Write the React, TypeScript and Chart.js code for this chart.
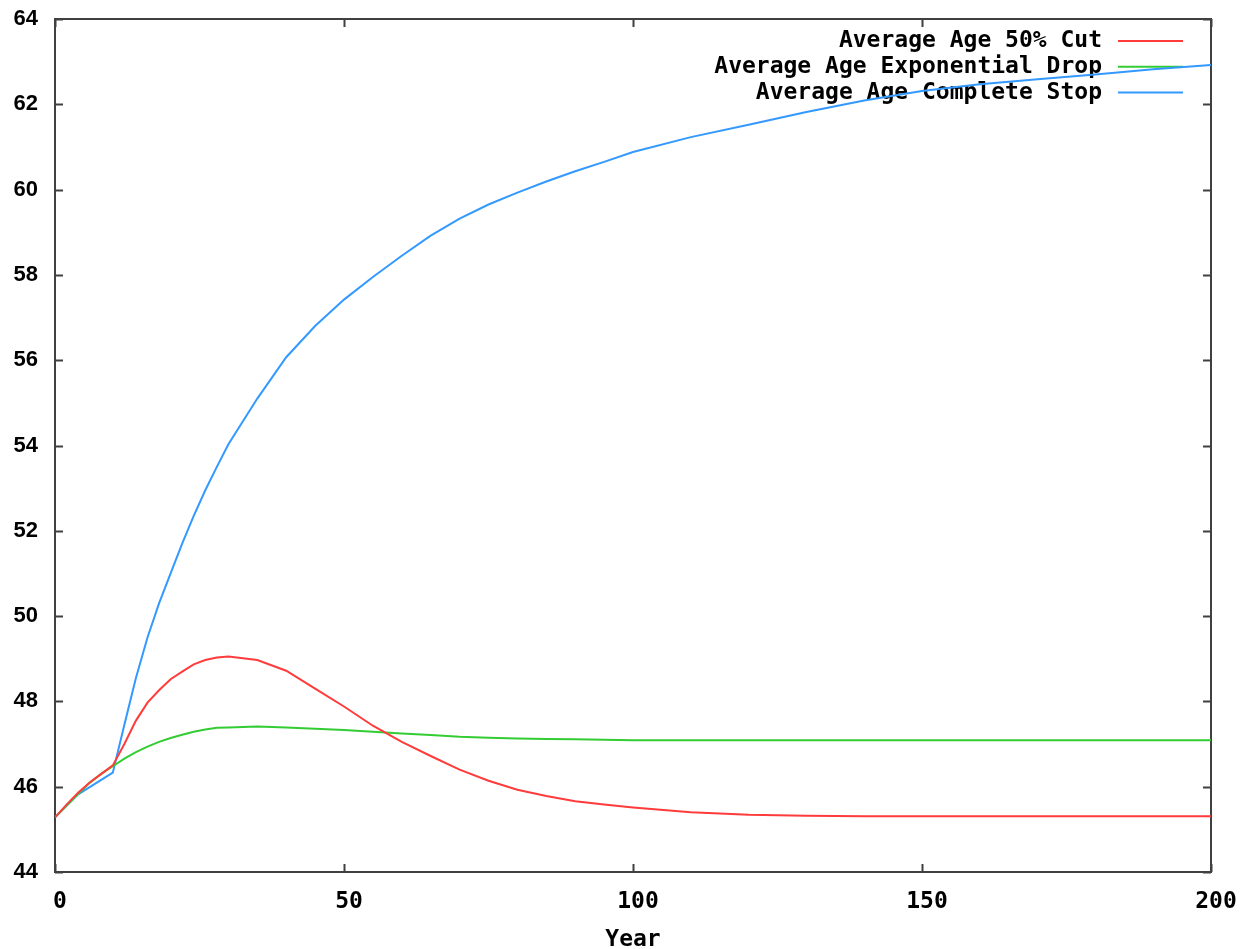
import React, { useEffect, useRef } from "react";
import { Chart, registerables } from "chart.js";

Chart.register(...registerables);

const years = [0, 2, 4, 6, 8, 10, 12, 14, 16, 18, 20, 22, 24, 26, 28, 30, 35, 40, 45, 50, 55, 60, 65, 70, 75, 80, 85, 90, 95, 100, 110, 120, 130, 140, 150, 160, 170, 180, 190, 200];

const cut50 = [45.28, 45.58, 45.86, 46.1, 46.3, 46.5, 47.0, 47.55, 47.97, 48.26, 48.52, 48.7, 48.87, 48.97, 49.03, 49.05, 48.97, 48.72, 48.3, 47.88, 47.43, 47.05, 46.72, 46.4, 46.14, 45.93, 45.78, 45.66, 45.58, 45.51, 45.4, 45.34, 45.32, 45.31, 45.31, 45.31, 45.31, 45.31, 45.31, 45.31];

const expDrop = [45.28, 45.56, 45.83, 46.09, 46.3, 46.48, 46.66, 46.81, 46.94, 47.05, 47.14, 47.22, 47.29, 47.34, 47.38, 47.39, 47.41, 47.39, 47.36, 47.33, 47.29, 47.25, 47.21, 47.17, 47.15, 47.13, 47.12, 47.11, 47.1, 47.09, 47.09, 47.09, 47.09, 47.09, 47.09, 47.09, 47.09, 47.09, 47.09, 47.09];

const completeStop = [45.28, 45.55, 45.82, 45.99, 46.16, 46.33, 47.45, 48.55, 49.5, 50.3, 51.0, 51.7, 52.35, 52.95, 53.5, 54.03, 55.1, 56.07, 56.8, 57.42, 57.95, 58.45, 58.92, 59.32, 59.65, 59.93, 60.19, 60.43, 60.65, 60.88, 61.23, 61.52, 61.82, 62.09, 62.31, 62.47, 62.59, 62.7, 62.82, 62.92];

const seriesLabels = ["Average Age 50% Cut", "Average Age Exponential Drop", "Average Age Complete Stop"];
const seriesColors = ["#ff3b3b", "#33cc33", "#3399ff"];
const xTitle = "Year";

const MONO = "'DejaVu Sans Mono', monospace";
const SANS = "'Liberation Sans', Arial, sans-serif";

const framePlugin = {
  id: "gnuFrame",
  beforeDatasetsDraw(chart: any) {
    const { ctx, chartArea: a, scales } = chart;
    ctx.save();
    ctx.strokeStyle = "#404040";
    ctx.lineWidth = 2;
    ctx.strokeRect(a.left, a.top, a.right - a.left, a.bottom - a.top);
    const tl = 8;
    ctx.beginPath();
    scales.y.ticks.forEach((t: any) => {
      const py = Math.round(scales.y.getPixelForValue(t.value)) + 0.5;
      ctx.moveTo(a.left, py);
      ctx.lineTo(a.left + tl, py);
      ctx.moveTo(a.right, py);
      ctx.lineTo(a.right - tl, py);
    });
    scales.x.ticks.forEach((t: any) => {
      const px = Math.round(scales.x.getPixelForValue(t.value)) + 0.5;
      ctx.moveTo(px, a.bottom);
      ctx.lineTo(px, a.bottom - tl);
      ctx.moveTo(px, a.top);
      ctx.lineTo(px, a.top + tl);
    });
    ctx.stroke();

    // key
    ctx.font = `bold 23px ${MONO}`;
    ctx.fillStyle = "#000";
    ctx.textAlign = "right";
    ctx.textBaseline = "middle";
    const textRight = a.right - 109;
    const lineStart = a.right - 93;
    const lineEnd = a.right - 28;
    chart.data.datasets.forEach((ds: any, i: number) => {
      const y = a.top + 22 + i * 25.8;
      ctx.fillText(ds.label, textRight, y);
      ctx.strokeStyle = ds.borderColor;
      ctx.lineWidth = 2;
      ctx.beginPath();
      ctx.moveTo(lineStart, y);
      ctx.lineTo(lineEnd, y);
      ctx.stroke();
    });
    ctx.restore();
  },
};

export default function App() {
  const ref = useRef<HTMLCanvasElement>(null);
  useEffect(() => {
    document.body.style.margin = "0";
    const series = [cut50, expDrop, completeStop];
    const chart = new Chart(ref.current!, {
      type: "line",
      data: {
        datasets: series.map((vals, i) => ({
          label: seriesLabels[i],
          data: years.map((yr, j) => ({ x: yr, y: vals[j] })),
          borderColor: seriesColors[i],
          backgroundColor: seriesColors[i],
          borderWidth: 2,
          pointRadius: 0,
          tension: 0,
          fill: false,
        })),
      },
      options: {
        animation: false,
        responsive: false,
        maintainAspectRatio: false,
        layout: { padding: { left: 0, top: 19, right: 36, bottom: 0 } },
        plugins: { legend: { display: false }, tooltip: { enabled: false }, title: { display: false } },
        scales: {
          x: {
            type: "linear",
            min: 0,
            max: 200,
            grid: { display: false, drawTicks: false },
            border: { display: false },
            ticks: { stepSize: 50, color: "#000", font: { family: MONO, size: 23, weight: "bold" }, padding: 16, labelOffset: 5, maxRotation: 0 },
            title: { display: true, text: xTitle, color: "#000", font: { family: MONO, size: 23, weight: "bold" }, padding: { top: 0, bottom: -5 } },
            afterFit: (s: any) => { s.height = 77; s.paddingLeft = 0; s.paddingRight = 0; },
          },
          y: {
            type: "linear",
            min: 44,
            max: 64,
            grid: { display: false, drawTicks: false },
            border: { display: false },
            ticks: { stepSize: 2, color: "#000", font: { family: SANS, size: 22, weight: "bold" }, padding: 17 },
            afterFit: (s: any) => { s.width = 55; s.paddingTop = 0; s.paddingBottom = 0; },
          },
        },
      },
      plugins: [framePlugin],
    });
    return () => chart.destroy();
  }, []);
  return <canvas ref={ref} width={1247} height={949} style={{ display: "block" }} />;
}
